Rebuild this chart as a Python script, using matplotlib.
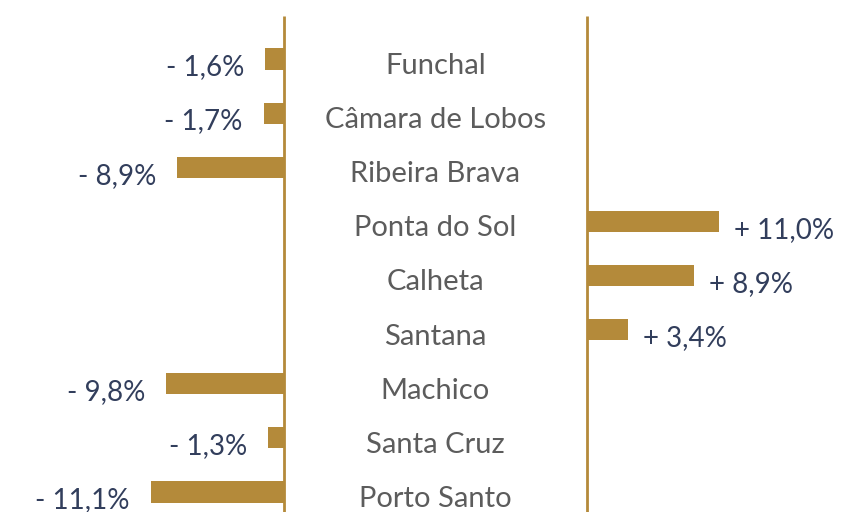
import matplotlib
matplotlib.use("Agg")
import matplotlib.pyplot as plt

concelhos = ["Funchal", "Câmara de Lobos", "Ribeira Brava", "Ponta do Sol",
             "Calheta", "Santana", "Machico", "Santa Cruz", "Porto Santo"]
variacao = [-1.6, -1.7, -8.9, 11.0, 8.9, 3.4, -9.8, -1.3, -11.1]
rotulos = ["- 1,6%", "- 1,7%", "- 8,9%", "+ 11,0%", "+ 8,9%", "+ 3,4%",
           "- 9,8%", "- 1,3%", "- 11,1%"]

gold = "#b48a3a"
navy = "#323e5c"
grey = "#5c5c5c"
plt.rcParams["font.family"] = ["Lato", "DejaVu Sans"]

W, H = 845, 512
fig = plt.figure(figsize=(W / 100, H / 100), dpi=100)
fig.patch.set_facecolor("white")

xl, xr = 284, 587
ax_l = fig.add_axes([0, 0, xl / W, 1])
ax_m = fig.add_axes([xl / W, 0, (xr - xl) / W, 1])
ax_r = fig.add_axes([xr / W, 0, (W - xr) / W, 1])

pxpct = 12.0
ylim = (8.37, -1.09)
top = -0.795
pos = list(range(len(concelhos)))

ax_l.set_xlim(-xl / pxpct, 0)
ax_r.set_xlim(0, (W - xr) / pxpct)
ax_m.set_xlim(0, 1)
for ax in (ax_l, ax_m, ax_r):
    ax.set_ylim(*ylim)
    ax.axis("off")

ax_l.vlines(0, top, ylim[0], color=gold, lw=2, clip_on=False)
ax_r.vlines(0, top, ylim[0], color=gold, lw=2, clip_on=False)

for i, (v, lab) in enumerate(zip(variacao, rotulos)):
    ax = ax_l if v < 0 else ax_r
    ax.barh(i, v, height=0.39, color=gold)
    if v < 0:
        ax.annotate(lab, (v, i), xytext=(-15, -6), textcoords="offset points",
                    ha="right", va="center", color=navy, fontsize=20)
    else:
        ax.annotate(lab, (v, i), xytext=(11, -6), textcoords="offset points",
                    ha="left", va="center", color=navy, fontsize=20)

for i, nome in zip(pos, concelhos):
    ax_m.annotate(nome, (0.5, i), xytext=(0, -5), textcoords="offset points",
                  ha="center", va="center", color=grey, fontsize=21)

fig.savefig("out.png", dpi=100)
